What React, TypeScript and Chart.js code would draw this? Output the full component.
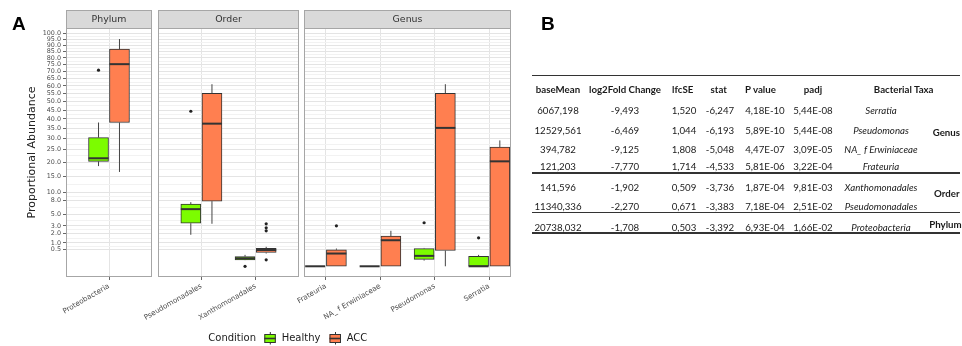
import React, { useEffect, useRef } from 'react';
import { Chart, registerables } from 'chart.js';
Chart.register(...registerables);

// ---------- data ----------
const conditions = ['Healthy', 'ACC'];
const conditionColors = ['#7CFC00', '#FF7F50'];

const phylumCats = ['Proteobacteria'];
const orderCats = ['Pseudomonadales', 'Xanthomonadales'];
const genusCats = ['Frateuria', 'NA_ f Erwiniaceae', 'Pseudomonas', 'Serratia'];

// per category: [lower whisker, Q1, median, Q3, upper whisker] (%)
const phylumHealthy = [[18.5, 20.3, 21.5, 30.5, 38.1]];
const phylumACC = [[16.4, 38.1, 75.3, 86.9, 95.2]];
const orderHealthy = [[1.83, 3.42, 6.02, 7.12, 7.58], [0.07, 0.076, 0.118, 0.174, 0.24]];
const orderACC = [[3.33, 7.82, 37.5, 55.2, 61.1], [0.3, 0.35, 0.49, 0.6, 0.7]];
const genusHealthy = [[0, 0, 0, 0, 0], [0, 0, 0, 0, 0], [0.06, 0.09, 0.2, 0.58, 0.62], [0, 0, 0, 0.185, 0.24]];
const genusACC = [[0, 0, 0.3, 0.5, 0.58], [0, 0, 1.25, 1.67, 2.32], [0, 0.457, 35.3, 55.2, 61.1], [0, 0, 20.3, 26.2, 29.2]];

// outliers per category (%)
const phylumHealthyOut = [[70.9]];
const phylumACCOut = [[]];
const orderHealthyOut = [[44.3], [0]];
const orderACCOut = [[], [0.076, 2.32, 2.73, 3.33]];
const genusHealthyOut = [[], [], [3.49], [1.49]];
const genusACCOut = [[3.02], [], [], []];

const yTickValues = [0.5, 1, 2, 3, 5, 8, 10, 15, 20, 25, 30, 35, 40, 45, 50, 55, 60, 65, 70, 75, 80, 85, 90, 95, 100];

// table
const tableHeaders = ['baseMean', 'log2Fold Change', 'lfcSE', 'stat', 'P value', 'padj', 'Bacterial Taxa'];
const baseMean = ['6067,198', '12529,561', '394,782', '121,203', '141,596', '11340,336', '20738,032'];
const log2FC = ['-9,493', '-6,469', '-9,125', '-7,770', '-1,902', '-2,270', '-1,708'];
const lfcSE = ['1,520', '1,044', '1,808', '1,714', '0,509', '0,671', '0,503'];
const statV = ['-6,247', '-6,193', '-5,048', '-4,533', '-3,736', '-3,383', '-3,392'];
const pValue = ['4,18E-10', '5,89E-10', '4,47E-07', '5,81E-06', '1,87E-04', '7,18E-04', '6,93E-04'];
const padj = ['5,44E-08', '5,44E-08', '3,09E-05', '3,22E-04', '9,81E-03', '2,51E-02', '1,66E-02'];
const taxa = ['Serratia', 'Pseudomonas', 'NA_ f Erwiniaceae', 'Frateuria', 'Xanthomonadales', 'Pseudomonadales', 'Proteobacteria'];
const taxaGroups = ['Genus', 'Order', 'Phylum'];

// ---------- layout ----------
const CW = 530;
const CH = 346;
const PLOT_TOP = 28;
const PLOT_BOTTOM = 277;
const STRIP_TOP = 10;
const DODGE = 0.195;
const BOX_PX = 20;
const FONT = 'DejaVu Sans';

const majorT = yTickValues.map((v) => ({ value: Math.sqrt(v), label: v.toFixed(1), minor: false }));
const minorT = majorT.slice(1).map((t, i) => ({ value: (t.value + majorT[i].value) / 2, label: '', minor: true }));
const yTicks = [...majorT, ...minorT].sort((a, b) => a.value - b.value);

type Panel = {
  title: string; cats: string[];
  stats: number[][][]; outs: number[][][];
  left: number; right: number; xMin: number; xMax: number;
  showY?: boolean; legend?: boolean;
};

const panels: Panel[] = [
  { title: 'Phylum', cats: phylumCats, stats: [phylumHealthy, phylumACC], outs: [phylumHealthyOut, phylumACCOut], left: 66, right: 152, xMin: 0.2, xMax: 1.8, showY: true },
  { title: 'Order', cats: orderCats, stats: [orderHealthy, orderACC], outs: [orderHealthyOut, orderACCOut], left: 158, right: 299, xMin: 0.2, xMax: 2.8 },
  { title: 'Genus', cats: genusCats, stats: [genusHealthy, genusACC], outs: [genusHealthyOut, genusACCOut], left: 304, right: 511, xMin: 0.6, xMax: 4.4, legend: true },
];

const sq = (v: number) => Math.sqrt(v);
const xPos = (i: number, ci: number) => i + 1 + (ci === 0 ? -DODGE : DODGE);

function buildConfig(p: Panel): any {
  const datasets: any[] = [];
  conditions.forEach((c, ci) => {
    datasets.push({
      type: 'bar', label: c,
      data: p.stats[ci].map((s, i) => ({ x: xPos(i, ci), y: [sq(s[1]), sq(s[3])] })),
      backgroundColor: conditionColors[ci], borderColor: '#333333', borderWidth: 1,
      borderSkipped: false, barThickness: BOX_PX, grouped: false,
    });
  });
  conditions.forEach((c, ci) => {
    datasets.push({
      type: 'scatter', label: c + ' outliers',
      data: p.outs[ci].flatMap((arr, i) => arr.map((v) => ({ x: xPos(i, ci), y: sq(v) }))),
      pointRadius: 1.6, backgroundColor: '#222', borderWidth: 0,
    });
  });

  const boxExtras = {
    id: 'boxExtras',
    afterDatasetsDraw(chart: any) {
      const { ctx, scales } = chart;
      const x = scales.x, y = scales.y;
      ctx.save();
      p.stats.forEach((arr, ci) => {
        arr.forEach((s, i) => {
          const px = x.getPixelForValue(xPos(i, ci));
          const [lo, q1, med, q3, hi] = s.map((v) => y.getPixelForValue(sq(v)));
          ctx.strokeStyle = '#444';
          ctx.lineWidth = 1;
          ctx.beginPath();
          ctx.moveTo(px, q3); ctx.lineTo(px, hi);
          ctx.moveTo(px, q1); ctx.lineTo(px, lo);
          ctx.stroke();
          ctx.strokeStyle = '#333';
          ctx.lineWidth = 2;
          ctx.beginPath();
          ctx.moveTo(px - BOX_PX / 2, med); ctx.lineTo(px + BOX_PX / 2, med);
          ctx.stroke();
        });
      });
      ctx.restore();
    },
  };

  const decor = {
    id: 'decor',
    afterDraw(chart: any) {
      const { ctx, chartArea: a } = chart;
      ctx.save();
      ctx.strokeStyle = '#A6A6A6';
      ctx.lineWidth = 1;
      ctx.strokeRect(a.left + 0.5, a.top + 0.5, a.right - a.left - 1, a.bottom - a.top - 1);
      ctx.fillStyle = '#D9D9D9';
      ctx.fillRect(a.left, STRIP_TOP, a.right - a.left, a.top - STRIP_TOP);
      ctx.strokeRect(a.left + 0.5, STRIP_TOP + 0.5, a.right - a.left - 1, a.top - STRIP_TOP);
      ctx.fillStyle = '#333';
      ctx.font = `9.4px "${FONT}"`;
      ctx.textAlign = 'center';
      ctx.textBaseline = 'middle';
      ctx.fillText(p.title, (a.left + a.right) / 2, (STRIP_TOP + a.top) / 2 + 0.5);

      if (p.legend) {
        const cy = 338.5;
        ctx.textAlign = 'left';
        ctx.font = `10px "${FONT}"`;
        ctx.fillStyle = '#1A1A1A';
        ctx.fillText('Condition', 208.3, cy);
        const keyX = [264.3, 329.5];
        const labX = [281.7, 346.7];
        chart.data.datasets.slice(0, 2).forEach((ds: any, k: number) => {
          const kx = keyX[k];
          ctx.strokeStyle = '#333';
          ctx.lineWidth = 1;
          ctx.beginPath();
          ctx.moveTo(kx + 6, 332); ctx.lineTo(kx + 6, 344.5);
          ctx.stroke();
          ctx.fillStyle = ds.backgroundColor;
          ctx.fillRect(kx, 334.5, 11.5, 8);
          ctx.strokeRect(kx + 0.5, 334.5, 10.5, 8);
          ctx.lineWidth = 1.6;
          ctx.beginPath();
          ctx.moveTo(kx, cy); ctx.lineTo(kx + 11.5, cy);
          ctx.stroke();
          ctx.fillStyle = '#1A1A1A';
          ctx.fillText(ds.label, labX[k], cy);
        });
      }
      ctx.restore();
    },
  };

  return {
    type: 'bar',
    data: { datasets },
    plugins: [boxExtras, decor],
    options: {
      responsive: false,
      animation: false,
      events: [],
      layout: { padding: { left: p.showY ? 0 : p.left, right: CW - p.right, top: PLOT_TOP, bottom: 0 } },
      plugins: { legend: { display: false }, tooltip: { enabled: false } },
      scales: {
        x: {
          type: 'linear', min: p.xMin, max: p.xMax, offset: false,
          afterBuildTicks: (s: any) => { s.ticks = p.cats.map((_, i) => ({ value: i + 1 })); },
          afterFit: (s: any) => { s.height = CH - PLOT_BOTTOM; },
          ticks: {
            autoSkip: false, minRotation: 30, maxRotation: 30, padding: 2,
            font: { family: FONT, size: 7.2 }, color: '#4D4D4D',
            callback: (_v: any, i: number) => p.cats[i],
          },
          grid: { offset: false, color: '#E4E4E4', lineWidth: 1, tickLength: 3, tickColor: '#666' },
          border: { display: false },
        },
        y: {
          type: 'linear', min: -0.46, max: 10.23,
          afterBuildTicks: (s: any) => { s.ticks = yTicks.map((t) => ({ value: t.value })); },
          afterFit: (s: any) => { s.width = p.showY ? p.left : 0; },
          ticks: {
            display: !!p.showY, autoSkip: false, padding: 2,
            font: { family: FONT, size: 6.4 }, color: '#4D4D4D',
            callback: (_v: any, i: number) => yTicks[i].label,
          },
          grid: {
            color: (c: any) => (yTicks[c.index] && yTicks[c.index].minor ? '#F2F2F2' : '#E4E4E4'),
            lineWidth: 1,
            drawTicks: !!p.showY, tickLength: 3,
            tickColor: (c: any) => (yTicks[c.index] && yTicks[c.index].minor ? 'rgba(0,0,0,0)' : '#666'),
          },
          border: { display: false },
          title: {
            display: !!p.showY, text: 'Proportional Abundance', color: '#222',
            font: { family: FONT, size: 11 }, padding: { top: 26, bottom: 0 },
          },
        },
      },
    },
  };
}

function PanelChart({ panel }: { panel: Panel }) {
  const ref = useRef<HTMLCanvasElement>(null);
  useEffect(() => {
    const chart = new Chart(ref.current as HTMLCanvasElement, buildConfig(panel));
    return () => chart.destroy();
  }, [panel]);
  return <canvas ref={ref} width={CW} height={CH} style={{ position: 'absolute', left: 0, top: 0 }} />;
}

const colX = [558, 625, 684, 720, 765, 813, 881];
const headX = [558, 625, 682.7, 718.7, 760.5, 813, 903.7];
const headY = 89.3;
const rowY = [109.7, 129.7, 149.3, 165.7, 186.7, 206, 227];
const groupPos = [{ x: 932.7, y: 132.3 }, { x: 934, y: 193.3 }, { x: 929.3, y: 224 }];
const rules = [{ y: 74.5, h: 1.6 }, { y: 172, h: 2 }, { y: 212, h: 1 }, { y: 232.3, h: 2 }];

const TFONT = 'Lato, "Open Sans", sans-serif';
const LH = 12;

function Cell({ text, cx, cy, bold, italic, left }: any) {
  const style: React.CSSProperties = {
    position: 'absolute', top: cy - LH / 2, height: LH, lineHeight: LH + 'px',
    fontFamily: TFONT, fontSize: 9.7, color: '#1A1A1A', whiteSpace: 'nowrap',
    fontWeight: bold ? 700 : 400, fontStyle: italic ? 'italic' : 'normal',
  };
  if (left) { style.left = cx; } else { style.left = cx - 60; style.width = 120; style.textAlign = 'center'; }
  return <div style={style}>{text}</div>;
}

export default function App() {
  useEffect(() => { document.body.style.margin = '0'; }, []);
  const cols = [baseMean, log2FC, lfcSE, statV, pValue, padj, taxa];
  return (
    <div style={{ position: 'relative', width: 962, height: 346, background: '#fff', overflow: 'hidden' }}>
      {panels.map((p) => <PanelChart key={p.title} panel={p} />)}
      <div style={{ position: 'absolute', left: 12, top: 14, fontFamily: '"Liberation Sans", Arial, sans-serif', fontWeight: 700, fontSize: 19, lineHeight: '19px' }}>A</div>
      <div style={{ position: 'absolute', left: 541, top: 14, fontFamily: '"Liberation Sans", Arial, sans-serif', fontWeight: 700, fontSize: 19, lineHeight: '19px' }}>B</div>
      {rules.map((r, i) => (
        <div key={'r' + i} style={{ position: 'absolute', left: 532, width: 428, top: r.y, height: r.h, background: '#333' }} />
      ))}
      {tableHeaders.map((h, i) => <Cell key={'h' + i} text={h} cx={headX[i]} cy={headY} bold />)}
      {cols.map((col, ci) => col.map((v, ri) => (
        <Cell key={ci + '-' + ri} text={v} cx={colX[ci]} cy={rowY[ri]} italic={ci === 6} />
      )))}
      {taxaGroups.map((g, i) => <Cell key={g} text={g} cx={groupPos[i].x} cy={groupPos[i].y} bold left />)}
    </div>
  );
}
